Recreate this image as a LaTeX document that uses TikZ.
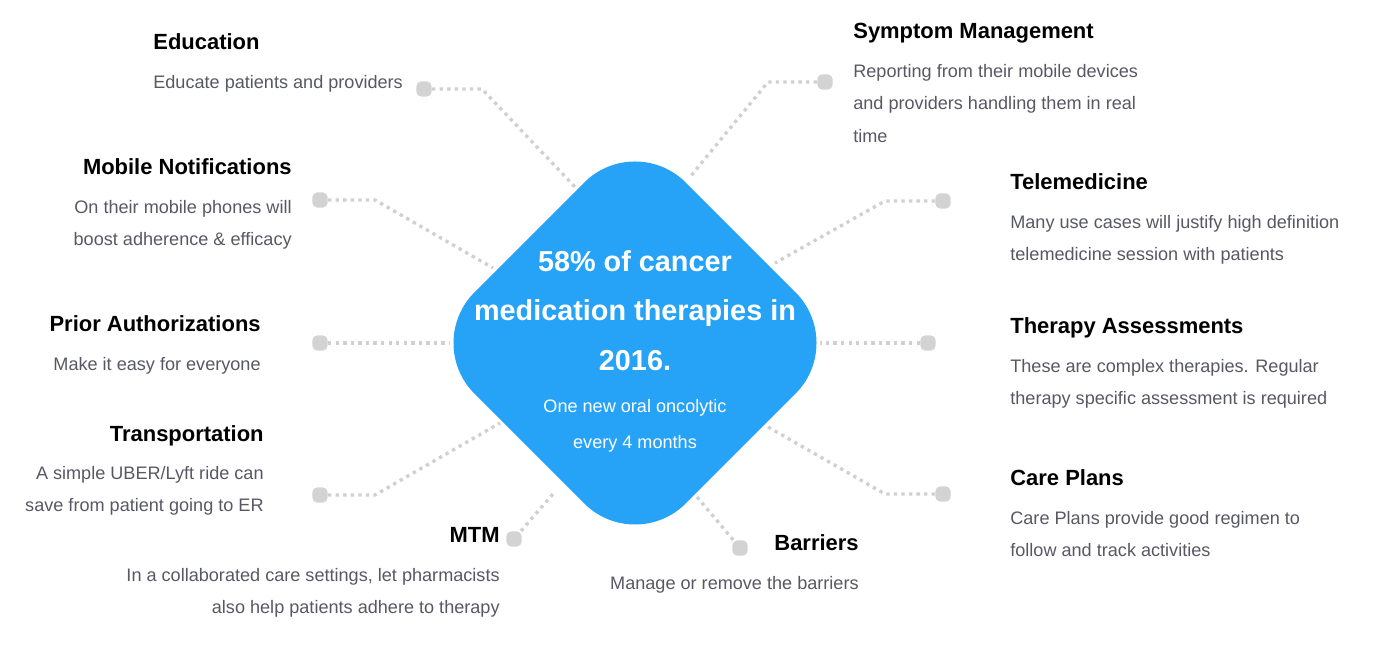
\documentclass[tikz,border=0pt]{standalone}
\usepackage{fontspec}
\setmainfont{Liberation Sans}
\definecolor{hubblue}{RGB}{38,163,247}
\definecolor{bodygray}{RGB}{88,88,100}
\definecolor{linegray}{RGB}{208,208,208}
\definecolor{knobgray}{RGB}{211,211,211}
\begin{document}
\begin{tikzpicture}[x=0.02cm, y=-0.02cm,
  ttl/.style={inner sep=0pt, font=\fontsize{12.5}{15}\selectfont\bfseries},
  txt/.style={inner sep=0pt, text=bodygray, font=\fontsize{10.3}{18.4}\selectfont},
  lft/.style={align=left, anchor=north west},
  rgt/.style={align=right, anchor=north east},
  knob/.style={fill=knobgray, rounded corners=3pt, minimum size=8.8pt, inner sep=0pt},
  link/.style={draw=linegray, line width=1.9pt, dash pattern=on 1.9pt off 2.4pt},
  hubhead/.style={inner sep=0pt, text=white, align=center, font=\fontsize{16.4}{28.3}\selectfont\bfseries},
  hubsub/.style={inner sep=0pt, text=white, align=center, font=\fontsize{10.3}{20.4}\selectfont}]
  \useasboundingbox (0,0) rectangle (1374,671);
  \node[knob] (edu-pt) at (424,89) {};
  \node[knob] (sym-pt) at (825,82) {};
  \node[knob] (mob-pt) at (320,200) {};
  \node[knob] (tel-pt) at (943,201) {};
  \node[knob] (pri-pt) at (320,343) {};
  \node[knob] (the-pt) at (928,343) {};
  \node[knob] (tra-pt) at (320,495) {};
  \node[knob] (car-pt) at (943,494) {};
  \node[knob] (mtm-pt) at (514,539) {};
  \node[knob] (bar-pt) at (740,548) {};
  \coordinate (edu-end) at (575,187);
  \coordinate (sym-end) at (690,177);
  \coordinate (mob-end) at (493,268);
  \coordinate (tel-end) at (775,263);
  \coordinate (pri-end) at (450,343);
  \coordinate (the-end) at (820,343);
  \coordinate (tra-end) at (500,423);
  \coordinate (car-end) at (768,427);
  \coordinate (mtm-end) at (553,494);
  \coordinate (bar-end) at (697,497);
  \draw[link] (edu-pt) -- ++(58,0) -- (edu-end);
  \draw[link] (sym-pt) -- ++(-57,0) -- (sym-end);
  \draw[link] (mob-pt) -- ++(55,0) -- (mob-end);
  \draw[link] (tel-pt) -- ++(-58,0) -- (tel-end);
  \draw[link] (pri-pt) -- (pri-end);
  \draw[link] (the-pt) -- (the-end);
  \draw[link] (tra-pt) -- ++(55,0) -- (tra-end);
  \draw[link] (car-pt) -- ++(-58,0) -- (car-end);
  \draw[link] (mtm-pt) -- (mtm-end);
  \draw[link] (bar-pt) -- (bar-end);
  \node[fill=hubblue, rounded corners=40.8pt, minimum size=170pt, inner sep=0pt, rotate=45] (hub) at (635,343) {};
  \node[hubhead, anchor=north] (hub-head) at (635,250) {58\% of cancer\\medication therapies in\\2016.};
  \node[hubsub, anchor=north] (hub-sub) at (635,399) {One new oral oncolytic\\every 4 months};
  \node[ttl, anchor=base west] (edu) at (153,50) {Education};
  \node[txt, lft] (edu-txt) at (153,75) {Educate patients and providers};
  \node[ttl, anchor=base west] (sym) at (853,39) {Symptom Management};
  \node[txt, lft] (sym-txt) at (853,64) {Reporting from their mobile devices\\and providers handling them in real\\time};
  \node[ttl, anchor=base east] (mob) at (292,175) {Mobile Notifications};
  \node[txt, rgt] (mob-txt) at (292,200) {On their mobile phones will\\boost adherence \& efficacy};
  \node[ttl, anchor=base west] (tel) at (1010,190) {Telemedicine};
  \node[txt, lft] (tel-txt) at (1010,215) {Many use cases will justify high definition\\telemedicine session with patients};
  \node[ttl, anchor=base east] (pri) at (261,332) {Prior Authorizations};
  \node[txt, rgt] (pri-txt) at (261,357) {Make it easy for everyone};
  \node[ttl, anchor=base west] (the) at (1010,334) {Therapy Assessments};
  \node[txt, lft] (the-txt) at (1010,359) {These are complex therapies. Regular\\therapy specific assessment is required};
  \node[ttl, anchor=base east] (tra) at (264,442) {Transportation};
  \node[txt, rgt] (tra-txt) at (264,466) {A simple UBER/Lyft ride can\\save from patient going to ER};
  \node[ttl, anchor=base west] (car) at (1010,486) {Care Plans};
  \node[txt, lft] (car-txt) at (1010,511) {Care Plans provide good regimen to\\follow and track activities};
  \node[ttl, anchor=base east] (mtm) at (500,543) {MTM};
  \node[txt, rgt] (mtm-txt) at (500,568) {In a collaborated care settings, let pharmacists\\also help patients adhere to therapy};
  \node[ttl, anchor=base east] (bar) at (859,551) {Barriers};
  \node[txt, rgt] (bar-txt) at (859,576) {Manage or remove the barriers};
\end{tikzpicture}
\end{document}
